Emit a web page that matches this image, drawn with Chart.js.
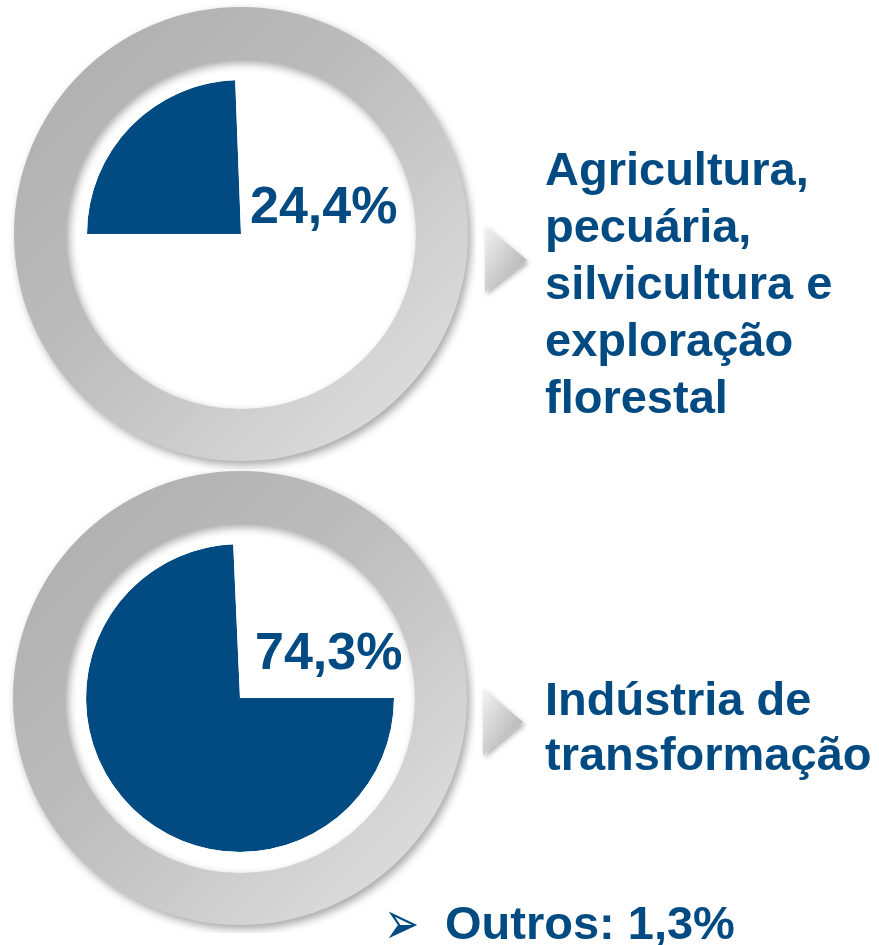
<!DOCTYPE html>
<html lang="pt-BR">
<head>
<meta charset="utf-8">
<title>Participação por setor</title>
<script src="https://cdn.jsdelivr.net/npm/chart.js@4.4.0/dist/chart.umd.min.js"></script>
<style>
  html, body { margin: 0; padding: 0; background: #fff; }
  body { width: 879px; height: 945px; position: relative; overflow: hidden;
         font-family: "Liberation Sans", Arial, sans-serif; font-weight: bold; color: #024a82; }
  .disc { position: absolute; width: 470px; height: 470px; }
  .pct { position: absolute; font-size: 52px; line-height: 52px; white-space: nowrap; }
  .name { position: absolute; left: 545px; font-size: 47px; white-space: nowrap; }
  .pointer { position: absolute; }
  #outros { position: absolute; left: 445px; top: 899px; font-size: 47px; line-height: 47px; white-space: nowrap; }
  #bullet { position: absolute; left: 384px; top: 899px; font-family: "DejaVu Sans", sans-serif;
            font-weight: normal; font-size: 42px; line-height: 47px;
            transform: scale(1, 1.45); transform-origin: 50% 50%; }
</style>
</head>
<body>

<canvas id="discTop" class="disc" width="470" height="470" style="left:6px; top:-1px;"></canvas>
<canvas id="discBottom" class="disc" width="470" height="470" style="left:5px; top:463px;"></canvas>

<div class="pct" id="pctTop" style="left:250px; top:179px;"></div>
<div class="pct" id="pctBottom" style="left:255px; top:625px;"></div>

<!-- grey pointer arrows -->
<svg class="pointer" width="879" height="945" style="left:0; top:0;">
  <defs>
    <linearGradient id="arrowGrad" x1="0" y1="0" x2="1" y2="1">
      <stop offset="0" stop-color="#f4f4f4"/>
      <stop offset="1" stop-color="#a6a6a6"/>
    </linearGradient>
    <filter id="arrowShadow" x="-50%" y="-50%" width="200%" height="200%">
      <feDropShadow dx="2" dy="3" stdDeviation="2.5" flood-color="#000" flood-opacity="0.3"/>
    </filter>
  </defs>
  <polygon points="485,225 527,260 485,292" fill="url(#arrowGrad)" filter="url(#arrowShadow)"/>
  <polygon points="483,688 523,722 483,755" fill="url(#arrowGrad)" filter="url(#arrowShadow)"/>
</svg>

<div class="name" id="nameTop" style="top:140px; line-height:57px;"></div>
<div class="name" id="nameBottom" style="top:671px; line-height:55px;"></div>

<div id="bullet">➢</div>
<div id="outros"></div>

<script>
// sectors and their share of the total (%)
const categories = ['Agricultura, pecuária, silvicultura e exploração florestal', 'Indústria de transformação', 'Outros'];
const shares = [24.4, 74.3, 1.3];
// how the names break into lines next to each disc
const nameLines = [
  ['Agricultura,', 'pecuária,', 'silvicultura e', 'exploração', 'florestal'],
  ['Indústria de', 'transformação']
];

const BLUE = '#024a82';

function pctText(v) {
  return v.toFixed(1).replace('.', ',') + '%';
}

// soft shadow under the grey ring (dataset 0 is the outer ring)
const ringShadow = {
  id: 'ringShadow',
  beforeDatasetDraw(chart, args) {
    if (args.index !== 0) return;
    const ctx = chart.ctx;
    ctx.save();
    ctx.shadowColor = 'rgba(0,0,0,0.35)';
    ctx.shadowBlur = 9;
    ctx.shadowOffsetX = 3;
    ctx.shadowOffsetY = 4;
  },
  afterDatasetDraw(chart, args) {
    if (args.index !== 0) return;
    chart.ctx.restore();
  }
};

function ringFill(c) {
  const a = c.chart.chartArea;
  if (!a) return '#c4c4c4';
  const g = c.chart.ctx.createLinearGradient(a.left + 20, a.top + 20, a.right - 20, a.bottom - 20);
  g.addColorStop(0, '#adadad');
  g.addColorStop(0.45, '#bdbdbd');
  g.addColorStop(1, '#e3e3e3');
  return g;
}

function makeDisc(id, share, startAngle) {
  return new Chart(document.getElementById(id), {
    type: 'pie',
    data: {
      datasets: [
        // outer grey ring
        { data: [1], backgroundColor: ringFill, borderWidth: 0, weight: 52, clip: false },
        // white band between ring and pie
        { data: [1], backgroundColor: '#ffffff', borderWidth: 0, weight: 21, clip: false },
        // the share itself
        { data: [share, 100 - share], backgroundColor: [BLUE, '#ffffff'], borderWidth: 0, weight: 154, clip: false }
      ]
    },
    options: {
      responsive: false,
      animation: false,
      events: [],
      radius: 227,
      rotation: startAngle,
      plugins: { legend: { display: false }, tooltip: { enabled: false } }
    },
    plugins: [ringShadow]
  });
}

// top: wedge starts at 9 o'clock, bottom: at 3 o'clock
makeDisc('discTop', shares[0], 270);
makeDisc('discBottom', shares[1], 90);

document.getElementById('pctTop').textContent = pctText(shares[0]);
document.getElementById('pctBottom').textContent = pctText(shares[1]);
document.getElementById('nameTop').innerHTML = nameLines[0].join('<br>');
document.getElementById('nameBottom').innerHTML = nameLines[1].join('<br>');
document.getElementById('outros').textContent = categories[2] + ': ' + pctText(shares[2]);
</script>
</body>
</html>
